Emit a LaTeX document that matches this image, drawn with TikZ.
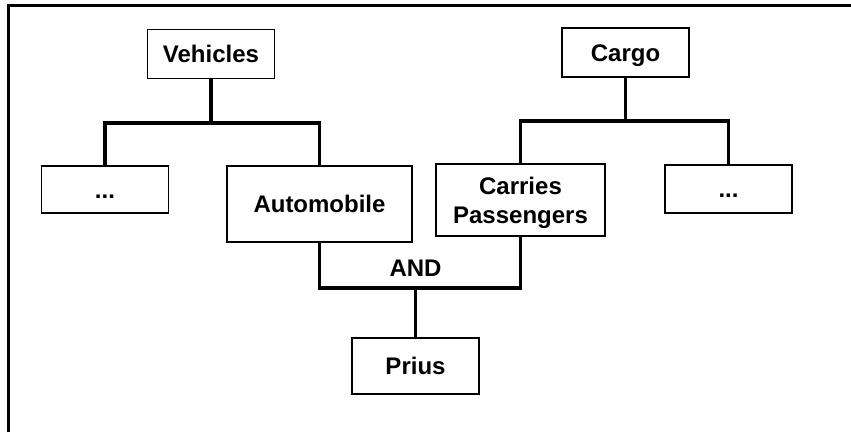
\documentclass[tikz,border=0pt]{standalone}
\usepackage{fontspec}
\setmainfont{Liberation Sans}
\usetikzlibrary{positioning}

\begin{document}
\begin{tikzpicture}[x=1pt, y=-1pt, every node/.style={font=\bfseries\fontsize{24}{29}\selectfont},
  box/.style={draw, line width=1.6pt, align=center, inner sep=0pt, minimum width=127pt, minimum height=49pt,
    text height=17pt, text depth=0pt},
  bigbox/.style={box, minimum width=185pt, minimum height=76pt},
  link/.style={line width=3.2pt},
  frame/.style={line width=2.5pt}
]
\useasboundingbox (0,0) rectangle (851,432);
\draw[frame] (8.5,432) -- (8.5,5.5) -- (851,5.5);

% parents
\node[box] (vehicles) at (211,54) {Vehicles};
\node[box] (cargo) at (625.5,52.5) {Cargo};

% children
\node[box, minimum height=47pt] (dotsL) at (105,189.5) {...};
\node[bigbox] (auto) at (319.5,204) {Automobile};
\node[bigbox, minimum width=169pt, minimum height=72pt, text height=46pt] (carries) at (520.5,200) {Carries\\Passengers};
\node[box, minimum height=48pt] (dotsR) at (728.5,189) {...};

% result
\node[box, minimum height=56pt] (prius) at (415.5,366) {Prius};

\coordinate (vbar) at (vehicles.south |- 0,123);
\coordinate (cbar) at (cargo.south |- 0,121);
\coordinate (andbar) at (prius.north |- 0,288);

\draw[link] (vehicles.south) -- (vbar);
\draw[link] (dotsL.north) |- (vbar) -| (auto.north);
\draw[link] (cargo.south) -- (cbar);
\draw[link] (carries.north) |- (cbar) -| (dotsR.north);
\draw[link] (auto.south) |- (andbar) -| (carries.south);
\draw[link] (andbar) -- (prius.north);
\node[above=12pt of andbar, anchor=base, inner sep=0pt] (and) {AND};
\end{tikzpicture}
\end{document}
